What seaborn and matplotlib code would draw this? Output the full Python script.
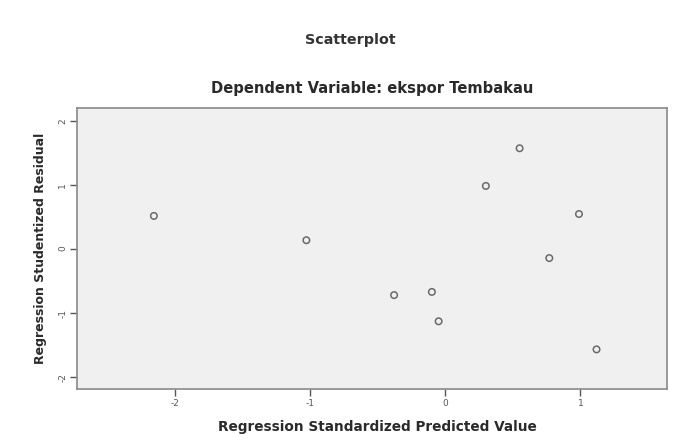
import pandas as pd
import seaborn as sns
import matplotlib.pyplot as plt

# Data (nilai perkiraan)
predicted = [-2.16, -1.03, -0.38, -0.10, -0.05, 0.30, 0.55, 0.77, 0.99, 1.12]
residual = [0.52, 0.14, -0.72, -0.67, -1.13, 0.99, 1.58, -0.14, 0.55, -1.57]
x_ticks = [-2, -1, 0, 1]
y_ticks = [-2, -1, 0, 1, 2]

df = pd.DataFrame({'pred': predicted, 'resid': residual})

sns.set_style("white")
plt.rcParams['font.family'] = ['DejaVu Sans']
plt.rcParams['axes.unicode_minus'] = False

fig = plt.figure(figsize=(6.81, 4.41), dpi=100)
ax = fig.add_axes([0.113, 0.118, 0.866, 0.637])
ax.set_facecolor('#f0f0f0')

sns.scatterplot(x='pred', y='resid', data=df, ax=ax, marker='o', s=22,
                facecolor='none', edgecolor='#6a6a6a', linewidth=1.1)

ax.set_xlim(-2.73, 1.64)
ax.set_ylim(-2.19, 2.21)
ax.set_xticks(x_ticks)
ax.set_yticks(y_ticks)
ax.tick_params(axis='both', bottom=True, left=True, labelsize=6.5, colors='#555555',
               length=5, width=1, direction='out', pad=2)
ax.tick_params(axis='y', labelrotation=90)

for side in ax.spines.values():
    side.set_color('#8a8a8a')
    side.set_linewidth(1.2)

ax.set_xlabel("Regression Standardized Predicted Value", fontsize=9.8, fontweight='bold', color='#2a2a2a')
ax.set_ylabel("Regression Studentized Residual", fontsize=9, fontweight='bold', color='#2a2a2a', labelpad=8)
ax.xaxis.set_label_coords(0.51, -0.11)
ax.set_title("Dependent Variable: ekspor Tembakau", fontsize=10.6, fontweight='bold', color='#2a2a2a', pad=11)

fig.text(0.515, 0.91, "Scatterplot", ha='center', va='center', fontsize=10.3, fontweight='bold', color='#333333')

plt.savefig('out.png', dpi=100)
